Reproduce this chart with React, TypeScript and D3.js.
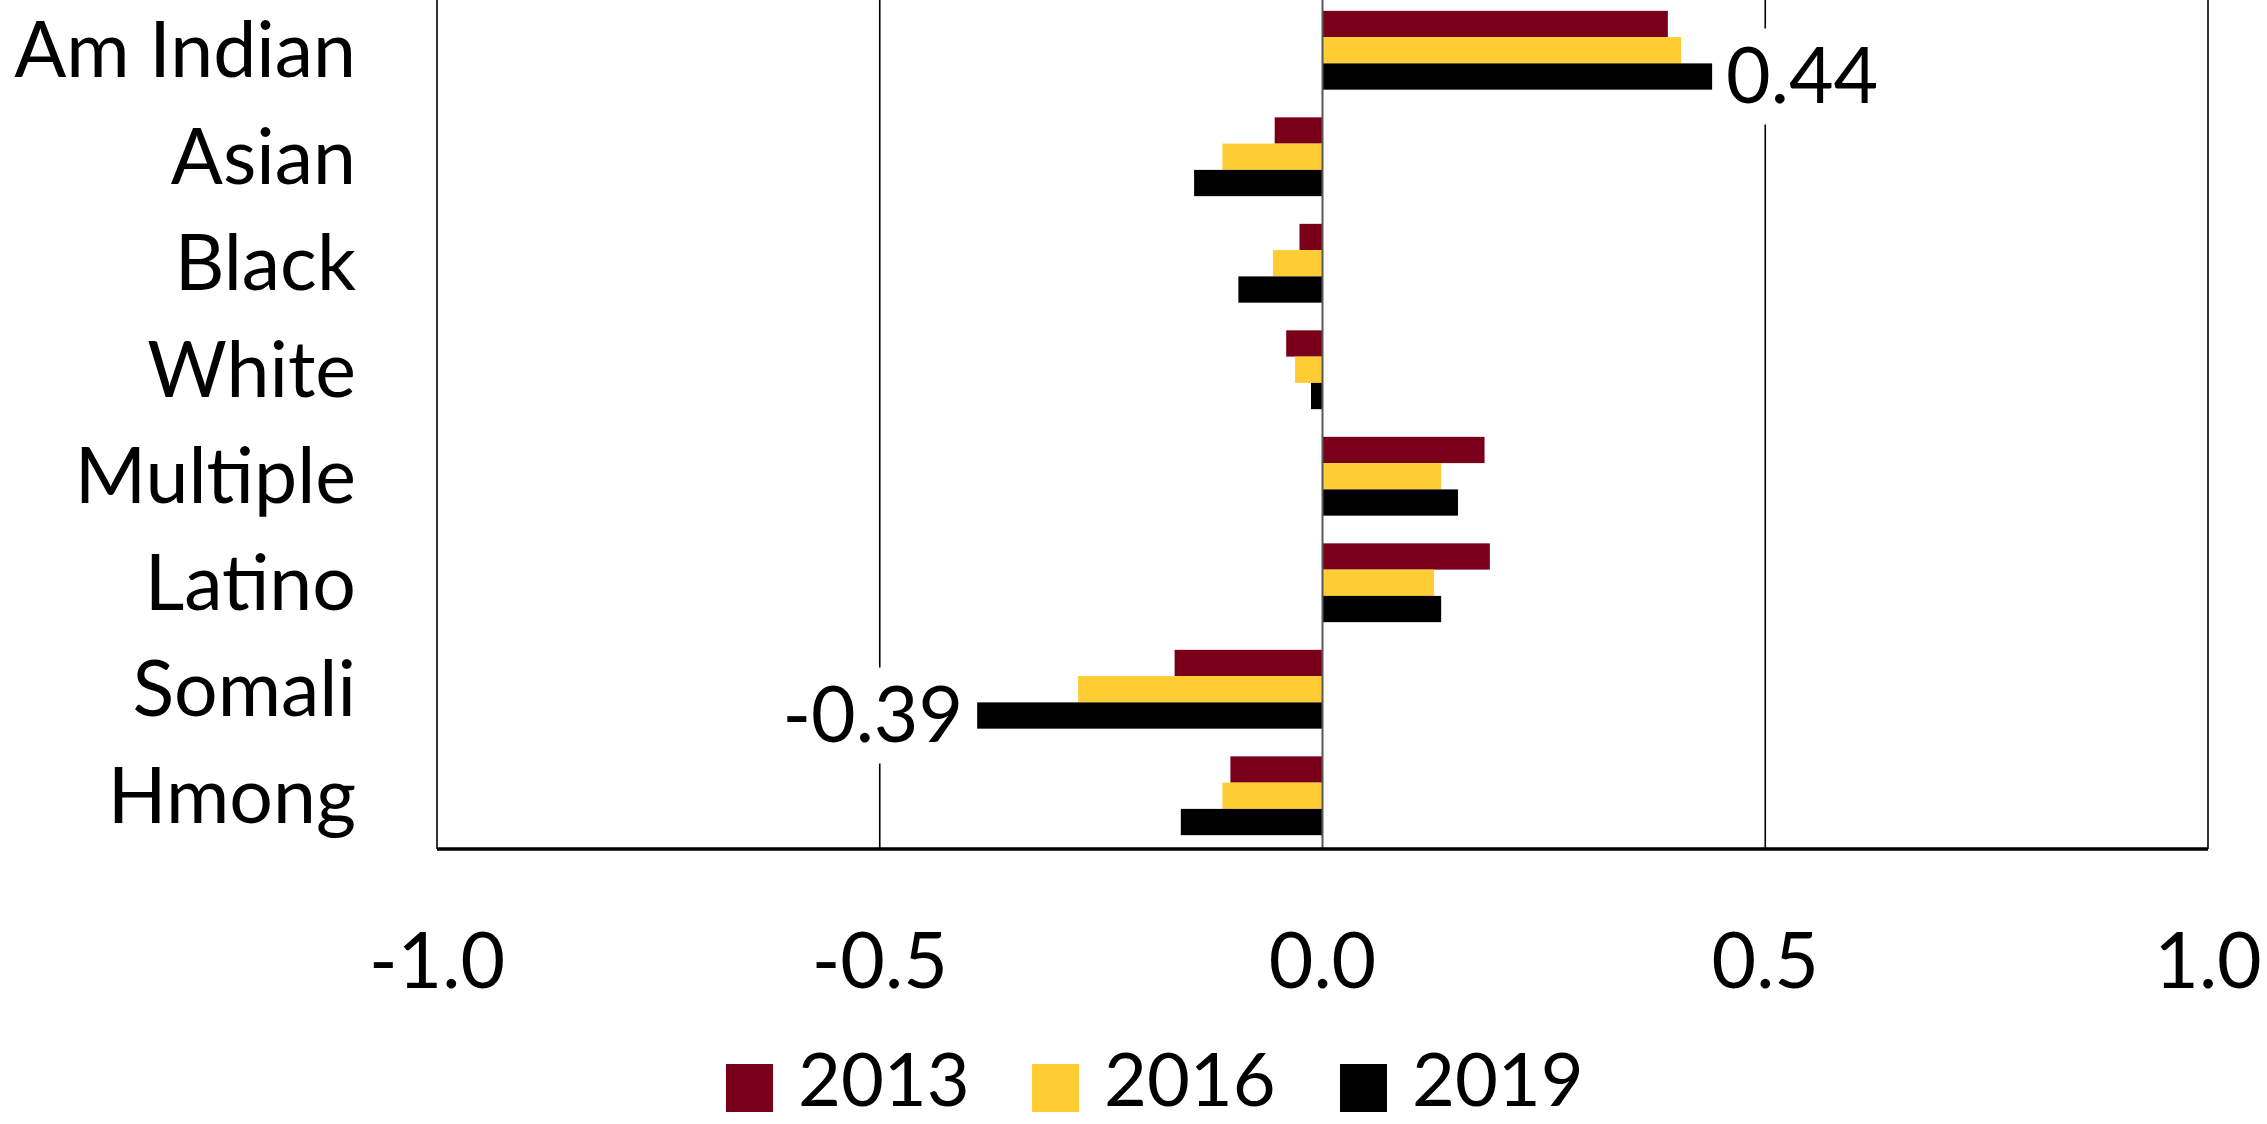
import React from "react";
import * as d3 from "d3";

const categories = ["Am Indian", "Asian", "Black", "White", "Multiple", "Latino", "Somali", "Hmong"];
const seriesNames = ["2013", "2016", "2019"];
const values2013 = [0.39, -0.054, -0.026, -0.041, 0.183, 0.189, -0.167, -0.104];
const values2016 = [0.405, -0.113, -0.056, -0.031, 0.134, 0.126, -0.276, -0.113];
const values2019 = [0.44, -0.145, -0.095, -0.013, 0.153, 0.134, -0.39, -0.16];
const colors = ["#7A0019", "#FFCC33", "#000000"];
const xTicks = [-1.0, -0.5, 0.0, 0.5, 1.0];
const labels = [
  { cat: "Am Indian", series: 2, text: "0.44" },
  { cat: "Somali", series: 2, text: "-0.39" },
];

const W = 2267, H = 1124;
const FONT = "Lato, 'Open Sans', sans-serif";

export default function App() {
  const series = [values2013, values2016, values2019];
  const x = d3.scaleLinear().domain([-1, 1]).range([437, 2208]);
  const y = d3.scaleBand().domain(categories).range([-3, 849]).paddingInner(0.26).paddingOuter(0.13);
  const sub = d3.scaleBand().domain(seriesNames).range([0, y.bandwidth()]);
  const fs = 77;
  return (
    <svg width={W} height={H} style={{ position: "absolute", left: 0, top: 0, background: "#fff" }} fontFamily={FONT}>
      <rect x={0} y={0} width={W} height={H} fill="#fff" />
      {xTicks.filter((t) => t !== 0).map((t) => (
        <line key={t} x1={x(t)} x2={x(t)} y1={0} y2={849} stroke="#000" strokeWidth={1.6} />
      ))}
      {categories.map((c, i) =>
        series.map((s, k) => {
          const v = s[i];
          return (
            <rect key={c + k} x={Math.min(x(0), x(v))} width={Math.abs(x(v) - x(0))}
              y={(y(c) as number) + (sub(seriesNames[k]) as number)} height={sub.bandwidth()}
              fill={colors[k]} />
          );
        })
      )}
      <line x1={x(0)} x2={x(0)} y1={0} y2={849} stroke="#595959" strokeWidth={2} />
      <line x1={x(-1)} x2={x(1)} y1={849} y2={849} stroke="#000" strokeWidth={3.5} />
      {labels.map((l) => {
        const i = categories.indexOf(l.cat);
        const v = series[l.series][i];
        const cy = (y(l.cat) as number) + (sub(seriesNames[l.series]) as number) + sub.bandwidth() / 2;
        const pos = v >= 0;
        const tx = pos ? x(v) + 14 : x(v) - 14;
        const tw = l.text.length * 39;
        return (
          <g key={l.text}>
            <rect x={pos ? tx - 4 : tx - tw - 4} y={cy - 48} width={tw + 8} height={96} fill="#fff" />
            <text x={tx} y={cy} dy="0.35em" fontSize={fs} textAnchor={pos ? "start" : "end"} fill="#000">{l.text}</text>
          </g>
        );
      })}
      {categories.map((c) => (
        <text key={c} x={356} y={(y(c) as number) + y.bandwidth() / 2} dy="0.35em" fontSize={fs} textAnchor="end" fill="#000">{c}</text>
      ))}
      {xTicks.map((t) => (
        <text key={t} x={x(t)} y={961} dy="0.35em" fontSize={fs} textAnchor="middle" fill="#000">{d3.format(".1f")(t).replace("−", "-")}</text>
      ))}
      {seriesNames.map((n, k) => {
        const lx = [726, 1032, 1340][k];
        return (
          <g key={n}>
            <rect x={lx} y={1064} width={47} height={48} fill={colors[k]} />
            <text x={lx + 72} y={1080} dy="0.35em" fontSize={74} fill="#000">{n}</text>
          </g>
        );
      })}
    </svg>
  );
}
